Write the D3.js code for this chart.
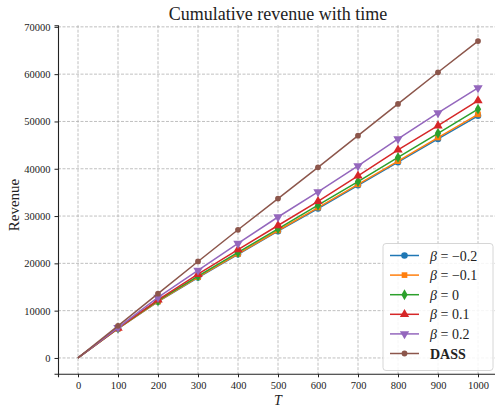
<!DOCTYPE html>
<html><head><meta charset="utf-8">
<script src="https://cdn.jsdelivr.net/npm/d3@7"></script>
<style>body{margin:0;background:#fff}svg{display:block}text{font-family:"Liberation Serif","DejaVu Serif",serif;fill:#222}</style>
</head><body><svg id="c" width="495" height="407"></svg>
<script>
const T = [0,100,200,300,400,500,600,700,800,900,1000];
const betaM02 = [0,6200,11900,17000,21900,26800,31600,36500,41400,46300,51200];
const betaM01 = [0,6200,11950,17100,22000,26950,31800,36700,41600,46600,51500];
const beta0   = [0,6300,12100,17300,22300,27300,32300,37300,42400,47500,52600];
const betaP01 = [0,6300,12300,17700,22900,28000,33100,38500,44000,49100,54400];
const betaP02 = [0,6400,12800,18500,24200,29800,35100,40600,46300,51800,57100];
const dass    = [0,6800,13600,20400,27100,33700,40300,47000,53700,60400,67000];
const xTicks = [0,100,200,300,400,500,600,700,800,900,1000];
const yTicks = [0,10000,20000,30000,40000,50000,60000,70000];
const seriesNames = ["β = −0.2","β = −0.1","β = 0","β = 0.1","β = 0.2","DASS"];
const colors = ["#1f77b4","#ff7f0e","#2ca02c","#d62728","#9467bd","#8c564b"];
const symbols = [d3.symbolCircle,d3.symbolSquare,d3.symbolDiamond,d3.symbolTriangle,"tridown",d3.symbolCircle];
const series = [betaM02,betaM01,beta0,betaP01,betaP02,dass];

const svg = d3.select("#c");
const L=58,R=498,Tp=25.2,B=373.8;
const x = d3.scaleLinear().domain([-50,1050]).range([L,R]);
const y = d3.scaleLinear().domain([-3350,70350]).range([B,Tp]);

// grid
const g = svg.append("g");
g.selectAll(".gx").data(xTicks).enter().append("line")
 .attr("x1",d=>x(d)).attr("x2",d=>x(d)).attr("y1",Tp).attr("y2",B)
 .attr("stroke","#b0b0b0").attr("stroke-width",0.8).attr("stroke-dasharray","3,1.5");
g.selectAll(".gy").data(yTicks).enter().append("line")
 .attr("y1",d=>y(d)).attr("y2",d=>y(d)).attr("x1",L).attr("x2",R)
 .attr("stroke","#b0b0b0").attr("stroke-width",0.8).attr("stroke-dasharray","3,1.5");

// axes
const xa = svg.append("g").attr("transform",`translate(0,${B})`)
 .call(d3.axisBottom(x).tickValues(xTicks).tickSize(3.5).tickPadding(4).tickFormat(d3.format("d")));
const ya = svg.append("g").attr("transform",`translate(${L},0)`)
 .call(d3.axisLeft(y).tickValues(yTicks).tickSize(3.5).tickPadding(4).tickFormat(d3.format("d")));
[xa,ya].forEach(a=>{a.select(".domain").attr("stroke","#222").attr("stroke-width",1.1);
 a.selectAll(".tick line").attr("stroke","#222");
 a.selectAll(".tick text").style("font-family","Liberation Serif, serif").style("font-size","10.5px").attr("fill","#222");});

function markerPath(sym,size){
  if(sym==="tridown") return d3.symbol().type(d3.symbolTriangle).size(size)();
  return d3.symbol().type(sym).size(size)();
}
const sizes=[34,32,34,38,38,26];
const line = d3.line().x((d,i)=>x(T[i])).y(d=>y(d));
series.forEach((s,k)=>{
  svg.append("path").datum(s).attr("d",line).attr("fill","none")
    .attr("stroke",colors[k]).attr("stroke-width",1.5);
  svg.selectAll(".m"+k).data(s.slice(1)).enter().append("path")
    .attr("d",markerPath(symbols[k],sizes[k]))
    .attr("transform",(d,i)=>`translate(${x(T[i+1])},${y(d)})`+(symbols[k]==="tridown"?" rotate(180)":""))
    .attr("fill",colors[k]);
});

// title & labels
svg.append("text").attr("x",278).attr("y",20).attr("text-anchor","middle")
 .style("font-size","18px").text("Cumulative revenue with time");
svg.append("text").attr("transform","translate(19,205) rotate(-90)").attr("text-anchor","middle")
 .style("font-size","15px").text("Revenue");
svg.append("text").attr("x",278).attr("y",405).attr("text-anchor","middle")
 .style("font-size","14px").style("font-style","italic").text("T");

// legend
const lg = svg.append("g");
lg.append("rect").attr("x",383).attr("y",243.5).attr("width",110).attr("height",127).attr("rx",3)
 .attr("fill","#fff").attr("fill-opacity",0.85).attr("stroke","#ccc").attr("stroke-width",0.8);
seriesNames.forEach((n,k)=>{
  const yy=255.5+k*19.6;
  lg.append("line").attr("x1",390).attr("x2",419).attr("y1",yy).attr("y2",yy)
   .attr("stroke",colors[k]).attr("stroke-width",1.5);
  lg.append("path").attr("d",markerPath(symbols[k],sizes[k]))
   .attr("transform",`translate(404.5,${yy})`+(symbols[k]==="tridown"?" rotate(180)":""))
   .attr("fill",colors[k]);
  const t = lg.append("text").attr("x",430).attr("y",yy+5).style("font-size","14px");
  if(n==="DASS"){ t.style("font-weight","bold").text(n); }
  else { t.append("tspan").style("font-style","italic").text("β");
         t.append("tspan").text(n.slice(1)); }
});
</script></body></html>
